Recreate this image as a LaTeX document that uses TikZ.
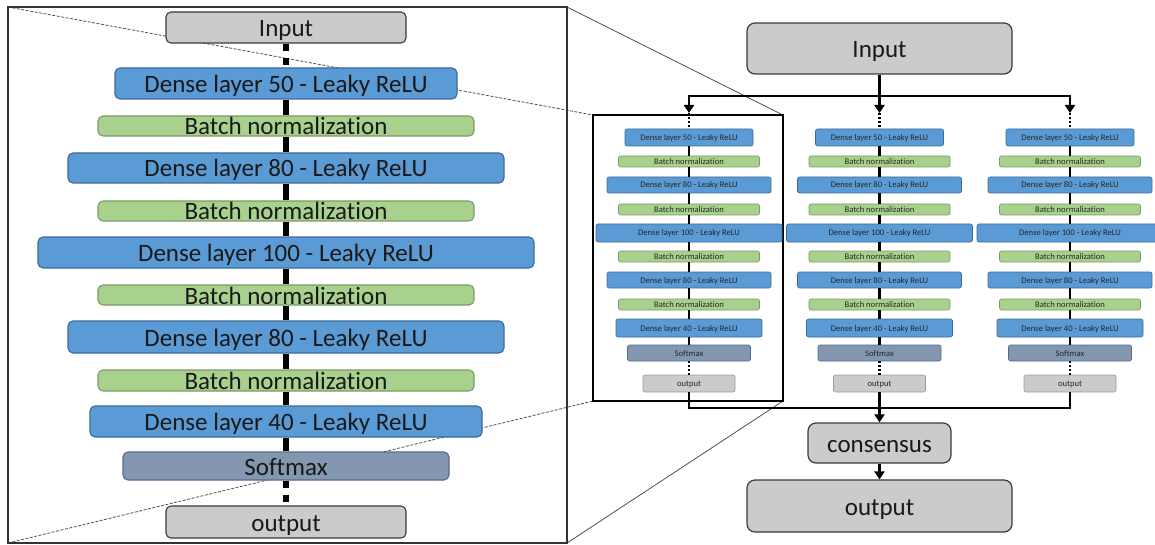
\documentclass[tikz,border=0pt]{standalone}
\usepackage{fontspec}
\setmainfont{Carlito}[Ligatures=NoCommon]
\usetikzlibrary{arrows.meta}
\definecolor{dnsfill}{HTML}{5B9BD5}
\definecolor{dnsline}{HTML}{3C6A98}
\definecolor{bnfill}{HTML}{A9D18E}
\definecolor{bnline}{HTML}{7C9A66}
\definecolor{smfill}{HTML}{8497B0}
\definecolor{smline}{HTML}{56698A}
\definecolor{gyfill}{HTML}{CBCBCB}
\definecolor{gyline}{HTML}{3A3A3A}
\definecolor{gylight}{HTML}{9A9A9A}
\definecolor{zoomgray}{HTML}{505050}
\tikzset{
  big/.style={draw, rounded corners=5pt, inner sep=0pt, line width=1.1pt,
    text=black!90, font=\fontsize{25}{25}\selectfont,
    text height=18pt, text depth=0pt},
  tiny/.style={draw, rounded corners=2pt, inner sep=0pt, line width=0.6pt,
    text=black!85, font=\fontsize{8.6}{9}\selectfont,
    text height=6pt, text depth=0pt},
  dense/.style={fill=dnsfill, draw=dnsline},
  bnorm/.style={fill=bnfill, draw=bnline},
  smax/.style={fill=smfill, draw=smline},
  grey/.style={fill=gyfill, draw=gyline},
  greylight/.style={fill=gyfill, draw=gylight},
  rbox/.style={draw=gyline, fill=gyfill, rounded corners=8pt, line width=1.2pt,
    inner sep=0pt, text=black!90, font=\fontsize{25}{25}\selectfont,
    text height=18pt, text depth=0pt},
  frame/.style={draw=black!80, line width=1.4pt},
  zoomline/.style={draw=zoomgray, line width=0.8pt},
  zoomdash/.style={zoomline, dash pattern=on 3pt off 1.5pt},
  spine/.style={line width=6.5pt, black},
  spinedash/.style={spine, dash pattern=on 7pt off 7pt},
  lspine/.style={line width=2.4pt, black},
  lspinedot/.style={lspine, dash pattern=on 2pt off 2pt},
  bus/.style={line width=2.6pt, black, line join=miter},
  busarrow/.style={bus, -{Triangle[length=8pt,width=10pt]}}
}
\begin{document}
\begin{tikzpicture}[x=1pt, y=-1pt]
\useasboundingbox (0,0) rectangle (1155,545);

% corners of the enlarged view and of the column it details
\coordinate (bigNW) at (8,7);
\coordinate (bigNE) at (567,7);
\coordinate (bigSW) at (8,543);
\coordinate (bigSE) at (567,543);
\coordinate (smNW) at (593,115);
\coordinate (smNE) at (783,115);
\coordinate (smSW) at (593,401);
\coordinate (smSE) at (783,401);

% projection lines between the two frames
\draw[zoomdash] (bigNW) -- (smNW);
\draw[zoomline] (bigNE) -- (smNE);
\draw[zoomdash] (bigSW) -- (smSW);
\draw[zoomline] (bigSE) -- (smSE);

\draw[frame] (bigNW) rectangle (bigSE);
\draw[black, line width=1.2pt] (smNW) rectangle (smSE);

% enlarged network
\node[big, grey]  (Lin)   at (286,27.5)  [minimum width=240pt, minimum height=31pt] {Input};
\node[big, dense] (Ld50)  at (286,83.5)  [minimum width=342pt, minimum height=31pt] {Dense layer 50 - Leaky ReLU};
\node[big, bnorm] (Lbn1)  at (286,126)   [minimum width=376pt, minimum height=20pt] {Batch normalization};
\node[big, dense] (Ld80)  at (286,168)   [minimum width=436pt, minimum height=30pt] {Dense layer 80 - Leaky ReLU};
\node[big, bnorm] (Lbn2)  at (286,211)   [minimum width=376pt, minimum height=20pt] {Batch normalization};
\node[big, dense] (Ld100) at (286,252.5) [minimum width=496pt, minimum height=31pt] {Dense layer 100 - Leaky ReLU};
\node[big, bnorm] (Lbn3)  at (286,295)   [minimum width=376pt, minimum height=20pt] {Batch normalization};
\node[big, dense] (Ld80b) at (286,337)   [minimum width=436pt, minimum height=32pt] {Dense layer 80 - Leaky ReLU};
\node[big, bnorm] (Lbn4)  at (286,380.5) [minimum width=376pt, minimum height=21pt] {Batch normalization};
\node[big, dense] (Ld40)  at (286,421.5) [minimum width=392pt, minimum height=31pt] {Dense layer 40 - Leaky ReLU};
\node[big, smax]  (Lsm)   at (286,466)   [minimum width=326pt, minimum height=28pt] {Softmax};
\node[big, grey]  (Lout)  at (286,522)   [minimum width=240pt, minimum height=32pt] {output};

\draw[spinedash] (Lin.south) -- (Ld50.north);
\foreach \a/\b in {Ld50/Lbn1, Lbn1/Ld80, Ld80/Lbn2, Lbn2/Ld100, Ld100/Lbn3,
                   Lbn3/Ld80b, Ld80b/Lbn4, Lbn4/Ld40, Ld40/Lsm}
  \draw[spine] (\a.south) -- (\b.north);
\draw[spinedash] (Lsm.south) -- (Lout.north);

% ensemble of three networks
\node[rbox] (Rin) at (879.5,48.5) [minimum width=265pt, minimum height=51pt] {Input};

\foreach \c/\cx in {a/689, b/879.5, c/1070} {
  \foreach \n/\cy/\h/\w/\s/\t in {
      d50/137.5/17/128/dense/Dense layer 50 - Leaky ReLU,
      bn1/161.5/11/141/bnorm/Batch normalization,
      d80/185/16/164/dense/Dense layer 80 - Leaky ReLU,
      bn2/209.5/11/141/bnorm/Batch normalization,
      d100/233/18/186/dense/Dense layer 100 - Leaky ReLU,
      bn3/256.5/11/141/bnorm/Batch normalization,
      d80b/280/16/164/dense/Dense layer 80 - Leaky ReLU,
      bn4/304.5/11/141/bnorm/Batch normalization,
      d40/328/18/146/dense/Dense layer 40 - Leaky ReLU,
      sm/353/16/123/smax/Softmax,
      out/383.5/17/92/greylight/output}
    \node[tiny, \s, minimum width=\w pt, minimum height=\h pt] (\c-\n) at (\cx,\cy) {\t};
  \coordinate (\c-top) at (\cx,96);
  \coordinate (\c-arr) at (\cx,113);
  \coordinate (\c-bot) at (\cx,408);
  \draw[lspinedot] (\c-arr) -- (\c-d50.north);
  \foreach \a/\b in {d50/bn1, bn1/d80, d80/bn2, bn2/d100, d100/bn3,
                     bn3/d80b, d80b/bn4, bn4/d40, d40/sm}
    \draw[lspine] (\c-\a.south) -- (\c-\b.north);
  \draw[lspinedot] (\c-sm.south) -- (\c-out.north);
  \draw[busarrow] (\c-top) -- (\c-arr);
}

\draw[bus] (Rin.south) -- (b-top);
\draw[bus, line cap=rect] (a-top) -- (c-top);

\node[rbox] (Rcons) at (879.5,443) [minimum width=143pt, minimum height=40pt] {consensus};
\node[rbox] (Rout)  at (879.5,506) [minimum width=265pt, minimum height=52pt] {output};

\draw[bus] (a-out.south) -- (a-bot) -- (c-bot) -- (c-out.south);
\draw[bus] (b-out.south) -- (b-bot);
\draw[busarrow] (b-bot) -- (Rcons.north);
\draw[busarrow] (Rcons.south) -- (Rout.north);
\end{tikzpicture}
\end{document}
